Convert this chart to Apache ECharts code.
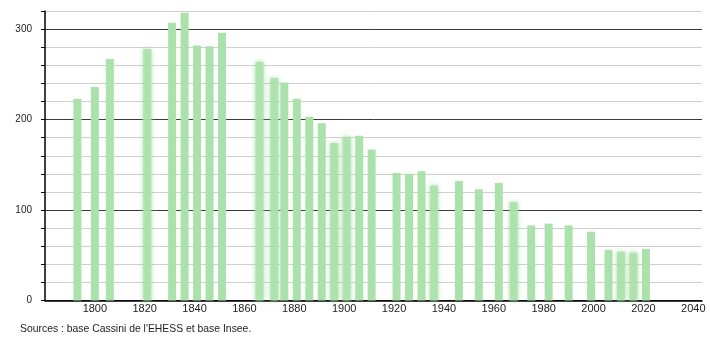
<!DOCTYPE html>
<html><head><meta charset="utf-8">
<script src="https://cdn.jsdelivr.net/npm/echarts@6/dist/echarts.min.js"></script>
<style>html,body{margin:0;padding:0;background:#fff}#c{width:710px;height:340px}</style>
</head><body><div id="c"></div>
<script>
var years = [1793,1800,1806,1821,1831,1836,1841,1846,1851,1866,1872,1876,1881,1886,1891,1896,1901,1906,1911,1921,1926,1931,1936,1946,1954,1962,1968,1975,1982,1990,1999,2006,2011,2016,2021];
var population = [223,236,267,278,307,318,282,281,296,264,246,241,223,203,196,174,181,182,167,141,140,143,127,132,123,130,109,83,85,83,76,56,54,53,57];
var fuzzyYears = [1821,1866,1872,1896,1901,1936,1968,2011,2016];
var yTicks = [0,100,200,300];
var source = "Sources : base Cassini de l'EHESS et base Insee.";

var barColor = '#abe2ab';
var font = 'Liberation Sans, Arial, sans-serif';
var data = years.map(function(y,i){
  var item = {value:[y, population[i]]};
  if (fuzzyYears.indexOf(y) >= 0) {
    item.itemStyle = {shadowBlur:5, shadowColor:'rgba(150,215,150,0.9)', opacity:0.85};
  }
  return item;
});
var chart = echarts.init(document.getElementById('c'), null, {renderer:'canvas'});
chart.setOption({
  animation:false,
  grid:{left:45, right:8, top:11, bottom:39.5, containLabel:false},
  xAxis:{type:'value', min:1780, max:2043.5, interval:20,
    axisLine:{show:true, lineStyle:{color:'#000', width:1.5}},
    axisTick:{show:false}, splitLine:{show:false},
    axisLabel:{color:'#222', fontSize:11, fontFamily:font, margin:3,
      showMaxLabel:false,
      formatter:function(v){return (v>=1800 && v%20===0)? String(v):'';}}
  },
  yAxis:{type:'value', min:0, max:320, interval:20,
    axisLine:{show:true, lineStyle:{color:'#000', width:1.5}},
    axisTick:{show:true, length:4, lineStyle:{color:'#000'}},
    splitLine:{show:true, lineStyle:{width:1, color:['#3a3a3a','#cfcfcf','#cfcfcf','#cfcfcf','#cfcfcf']}},
    axisLabel:{color:'#222', fontSize:10, fontFamily:font, margin:13,
      formatter:function(v){return yTicks.indexOf(v)>=0 ? String(v) : '';}}
  },
  series:[{type:'bar', data:data, barWidth:8, itemStyle:{color:barColor}}],
  graphic:[{type:'text', left:20, top:324, style:{text:source, fill:'#222', fontSize:10.4, fontFamily:font}}]
});
</script></body></html>
